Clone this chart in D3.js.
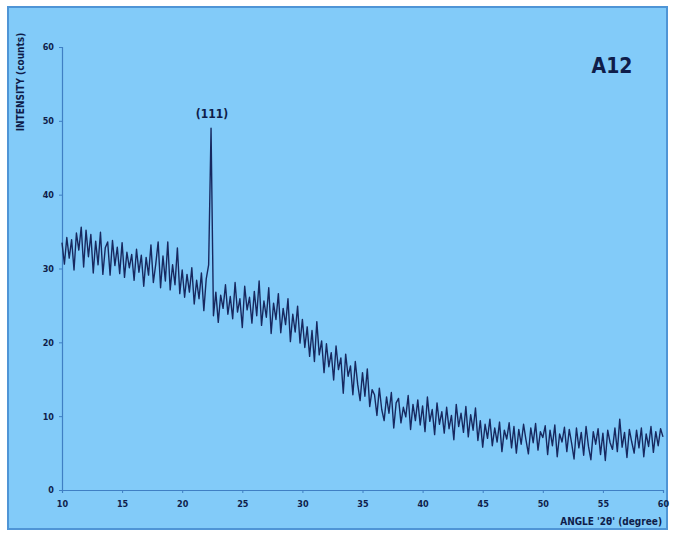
<!DOCTYPE html>
<html>
<head>
<meta charset="utf-8">
<script src="https://cdn.jsdelivr.net/npm/d3@7"></script>
<style>
  body { margin: 0; background: #fff; }
  text { font-family: "Liberation Sans Narrow", "DejaVu Sans Condensed", sans-serif; font-weight: bold; fill: #0f1d4a; }
</style>
</head>
<body>
<svg width="674" height="542"></svg>
<script>
// XRD pattern, sample A12 (step 0.2 deg from 10 to 60)
var startAngle = 10, stepAngle = 0.2;
var intensity = [
  33.5, 30.6, 34.2, 31.4, 33.9, 29.8, 34.8, 32.5, 35.6, 30.2,
  35.2, 31.6, 34.6, 29.4, 33.7, 30.5, 34.9, 29.2, 32.8, 33.6,
  29.1, 33.8, 30.4, 32.9, 29.3, 33.5, 28.8, 32.2, 30.1, 31.9,
  28.4, 32.6, 29.5, 31.8, 27.6, 31.5, 29.1, 33.2, 28.1, 30.6,
  33.6, 27.4, 31.7, 28.3, 33.6, 27.1, 30.5, 27.8, 32.8, 26.6,
  29.8, 26.1, 29.2, 26.8, 30.1, 25.2, 28.4, 25.9, 29.4, 24.3,
  28.6, 30.5, 49.0, 23.6, 26.8, 22.7, 26.4, 24.6, 27.8, 23.8,
  26.2, 23.2, 28.1, 24.1, 25.9, 22.0, 27.6, 24.4, 26.1, 22.6,
  26.9, 23.6, 28.3, 22.3, 25.6, 23.4, 27.4, 21.2, 25.3, 23.1,
  26.6, 21.3, 24.6, 22.4, 25.9, 20.1, 23.8, 21.4, 24.9, 19.9,
  23.1, 19.3, 22.1, 18.1, 21.6, 17.4, 22.8, 18.3, 20.2, 15.9,
  19.8, 16.7, 18.6, 14.9, 19.5, 16.3, 17.9, 13.1, 18.4, 15.4,
  16.8, 12.9, 17.4, 14.3, 12.1, 15.9, 12.7, 16.4, 11.3, 13.6,
  12.9, 10.1, 13.8, 10.9, 9.4, 12.6, 10.4, 13.2, 8.4, 11.8,
  12.4, 9.1, 11.2, 9.9, 12.8, 8.2, 11.6, 9.4, 12.2, 8.8,
  11.4, 7.9, 12.6, 9.3, 10.9, 7.5, 11.8, 8.9, 10.6, 7.7,
  11.2, 8.3, 10.1, 6.8, 11.6, 8.6, 10.4, 7.8, 11.3, 7.2,
  10.2, 8.1, 11.1, 6.7, 9.4, 5.8, 8.9, 7.0, 9.6, 6.0,
  8.4, 6.5, 9.2, 5.2, 8.1, 6.9, 9.1, 5.7, 8.6, 5.0,
  8.2, 6.2, 8.9, 6.8, 4.9, 8.4, 6.4, 9.0, 5.4, 7.9,
  7.1, 8.7, 4.8, 8.1, 6.0, 8.8, 4.5, 7.6, 6.5, 8.5,
  5.2, 8.2, 6.3, 4.2, 8.4, 5.7, 7.8, 4.7, 8.6, 5.9,
  4.1, 7.9, 6.2, 8.3, 4.8, 7.7, 4.0, 8.1, 6.4, 5.5,
  8.4, 5.2, 9.6, 5.8, 7.8, 4.4, 8.2, 6.5, 5.0, 8.1,
  5.7, 8.4, 4.5, 7.6, 5.9, 8.6, 5.1, 7.9, 6.0, 8.3,
  7.2
];
var xTicks = [10, 15, 20, 25, 30, 35, 40, 45, 50, 55, 60];
var yTicks = [0, 10, 20, 30, 40, 50, 60];
var peakLabel = { angle: 22.4, value: 49, text: "(111)" };

var svg = d3.select("svg");

svg.append("rect")
  .attr("x", 8).attr("y", 7)
  .attr("width", 659).attr("height", 522)
  .attr("fill", "#82cbf9")
  .attr("stroke", "#4f95d6")
  .attr("stroke-width", 2);

var x = d3.scaleLinear().domain([10, 60]).range([62, 663]);
var y = d3.scaleLinear().domain([0, 60]).range([490, 47]);

var xAxis = svg.append("g")
  .attr("transform", "translate(0,490)")
  .call(d3.axisBottom(x).tickValues(xTicks).tickSize(3).tickPadding(8));
var yAxis = svg.append("g")
  .attr("transform", "translate(62,0)")
  .call(d3.axisLeft(y).tickValues(yTicks).tickSize(3).tickPadding(5));

[xAxis, yAxis].forEach(function(g) {
  g.select(".domain").attr("stroke", "#3f7fc4").attr("stroke-width", 1.2);
  g.selectAll(".tick line").attr("stroke", "#3f7fc4");
  g.selectAll(".tick text").attr("font-size", 9).attr("font-family", null).style("fill", "#0f1d4a");
});

var points = intensity.map(function(v, i) { return [startAngle + i * stepAngle, v]; });

svg.append("path")
  .datum(points)
  .attr("fill", "none")
  .attr("stroke", "#17285f")
  .attr("stroke-width", 1.4)
  .attr("stroke-linejoin", "round")
  .attr("d", d3.line().x(function(d) { return x(d[0]); }).y(function(d) { return y(d[1]); }));

svg.append("text")
  .attr("transform", "translate(24,82) rotate(-90)")
  .attr("text-anchor", "middle")
  .attr("font-size", 10)
  .text("INTENSITY (counts)");

svg.append("text")
  .attr("x", 662).attr("y", 525)
  .attr("text-anchor", "end")
  .attr("font-size", 10)
  .text("ANGLE '2θ' (degree)");

svg.append("text")
  .attr("x", 612).attr("y", 73)
  .attr("text-anchor", "middle")
  .attr("font-size", 21)
  .text("A12");

svg.append("text")
  .attr("x", x(peakLabel.angle) + 1).attr("y", y(peakLabel.value) - 10)
  .attr("text-anchor", "middle")
  .attr("font-size", 12)
  .text(peakLabel.text);
</script>
</body>
</html>
